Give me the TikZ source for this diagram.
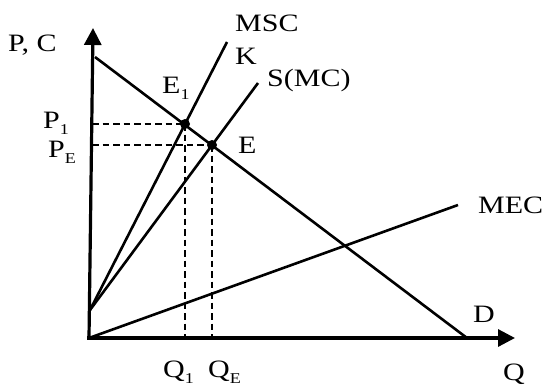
\documentclass[tikz,border=0pt]{standalone}
\usepackage{graphicx}
\usepackage{fontspec}
\setmainfont{Liberation Serif}
\usetikzlibrary{arrows.meta}
\newcommand\wt[1]{\scalebox{1.2}[1]{#1}}
\newcommand\sbs[1]{\raisebox{-6pt}{\fontsize{15}{15}\selectfont #1}}
\begin{document}
\begin{tikzpicture}[x=1pt,y=-1pt,
  curve/.style={line width=2.6pt},
  axis/.style={line width=3.2pt,-{Triangle[length=17pt,width=17pt]}},
  guide/.style={line width=2.4pt,dash pattern=on 6.5pt off 4pt},
  lbl/.style={font=\fontsize{25}{25}\selectfont, inner sep=0pt, anchor=base west},
  dot/.style={circle,fill,inner sep=0pt,minimum size=10pt}]
\useasboundingbox (0,0) rectangle (545,385);
% key points
\coordinate (O) at (89,338);
\coordinate (Ytop) at (93,28);
\coordinate (Xtip) at (515,338);
\coordinate (Dtop) at (95,57);
\coordinate (Dend) at (467,338);
\coordinate (K0) at (90,310);
\coordinate (MSCtop) at (227,42);
\coordinate (Stop) at (258,83);
\coordinate (MECend) at (458,205);
\coordinate (pone) at (92,124);
\coordinate (pE) at (92,145);
\coordinate (qone) at (185,338);
\coordinate (qE) at (212,338);
% guides
\draw[guide] (pone) -- (185,124);
\draw[guide] (pE) -- (212,145);
\draw[guide] (185,124) -- (qone);
\draw[guide] (212,145) -- (qE);
% curves
\draw[curve] (Dtop) -- (Dend);
\draw[curve] (K0) -- (MSCtop);
\draw[curve] (K0) -- (Stop);
\draw[curve] (O) -- (MECend);
% axes
\draw[axis] (O) -- (Ytop);
\draw[axis] (87.4,338) -- (Xtip);
% points
\node[dot] (E1) at (185,124) {};
\node[dot] (E) at (212,145) {};
% labels
\node[lbl] (lPC) at (8,52) {\wt{P, C}};
\node[lbl] (lMSC) at (235,32) {\wt{MSC}};
\node[lbl] (lK) at (235,65) {\wt{K}};
\node[lbl] (lS) at (267,87) {\wt{S(MC)}};
\node[lbl] (lE1) at (162,93) {\wt{E\sbs{1}}};
\node[lbl] (lE) at (238,153) {\wt{E}};
\node[lbl] (lP1) at (43,128) {\wt{P\sbs{1}}};
\node[lbl] (lPE) at (48,157) {\wt{P\sbs{E}}};
\node[lbl] (lMEC) at (478,213) {\wt{MEC}};
\node[lbl] (lD) at (473,322) {\wt{D}};
\node[lbl] (lQ) at (503,380) {\wt{Q}};
\node[lbl] (lQ1) at (163,377) {\wt{Q\sbs{1}}};
\node[lbl] (lQE) at (208,377) {\wt{Q\sbs{E}}};
\end{tikzpicture}
\end{document}
